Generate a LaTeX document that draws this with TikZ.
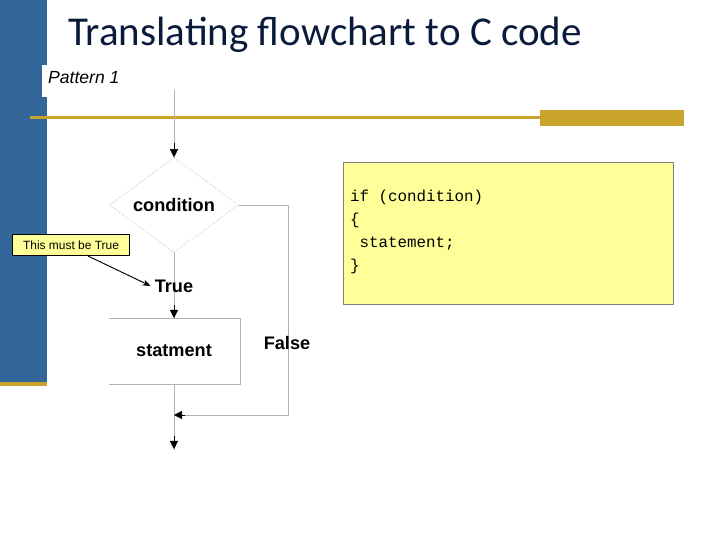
\documentclass[tikz,border=0pt]{standalone}
\usepackage{fontspec}
\setmainfont{Liberation Sans}
\newfontfamily\titlefont{Carlito}
\newfontfamily\codefont{Liberation Mono}
\usetikzlibrary{arrows.meta,shapes.geometric}
\definecolor{barblue}{HTML}{336699}
\definecolor{gold}{HTML}{C9A32E}
\definecolor{notey}{HTML}{FFFF99}
\definecolor{titlecol}{HTML}{0A1A3A}
\begin{document}
\begin{tikzpicture}[x=0.03cm,y=-0.03cm,
    flow/.style={draw=black!30, thin},
    tip/.style={-{Triangle[length=7pt,width=7pt]}},
    lbl/.style={font=\bfseries\fontsize{15.5}{18}\selectfont}]
    \useasboundingbox (0,0) rectangle (720,540);
    % Slide frame
    \fill[barblue] (0,0) rectangle (47,385);
    \fill[gold] (0,382) rectangle (47,386);
    \fill[white] (42,65) rectangle (125,97);
    \node[anchor=west, font=\itshape\fontsize{15}{17}\selectfont] (pat) at (44,78) {Pattern 1};
    \fill[gold] (30,116) rectangle (540,119);
    \fill[gold] (540,110) rectangle (684,126);
    \node[anchor=west, inner sep=0pt, text=titlecol, font=\titlefont\fontsize{35}{40}\selectfont] (title) at (68,35) {Translating flowchart to C code};

    % Flowchart
    \draw[flow] (174,90) -- (174,450);
    \node[diamond, draw=black!40, densely dotted, fill=white, minimum width=129*0.03cm,
          minimum height=95*0.03cm, inner sep=0pt, lbl] (cond) at (174,205) {condition};
    \coordinate (inA) at (174,143);
    \draw[tip] (inA) -- (cond.north);
    \node[lbl] (true) at (174,286) {True};
    \fill[white] (109,318) rectangle (240,384);
    \draw[black!30] (109,318) -- (240,318) -- (240,384) -- (109,384);
    \node[lbl] (stmt) at (174,351) {statment};
    \coordinate (inB) at (174,305);
    \coordinate (inBe) at (174,318);
    \draw[tip] (inB) -- (inBe);
    \coordinate (fr) at (288,205);
    \coordinate (fb) at (288,415);
    \coordinate (join) at (174,415);
    \draw[flow] (cond.east) -- (fr) -- (fb) -- (join);
    \draw[tip] (185,415) -- (join);
    \node[lbl] (false) at (287,343) {False};
    \coordinate (outA) at (174,436);
    \coordinate (outB) at (174,449);
    \draw[tip] (outA) -- (outB);

    % Callout
    \node[draw=black, fill=notey, inner sep=2pt, font=\fontsize{10.2}{12}\selectfont,
          minimum width=117*0.03cm, minimum height=21*0.03cm] (note) at (71,245) {This must be True};
    \draw[thick, -{Stealth[length=7pt]}] (88,256) -- (true.west);

    % Code
    \node[draw=black!50, fill=notey, anchor=north west, minimum width=330*0.03cm,
          minimum height=142*0.03cm] (codebox) at (343,162) {};
    \node[anchor=north west, align=left, font=\codefont\fontsize{13.5}{19.6}\selectfont]
        (code) at (346,186) {if (condition)\\\{\\\ statement;\\\}};
\end{tikzpicture}
\end{document}
